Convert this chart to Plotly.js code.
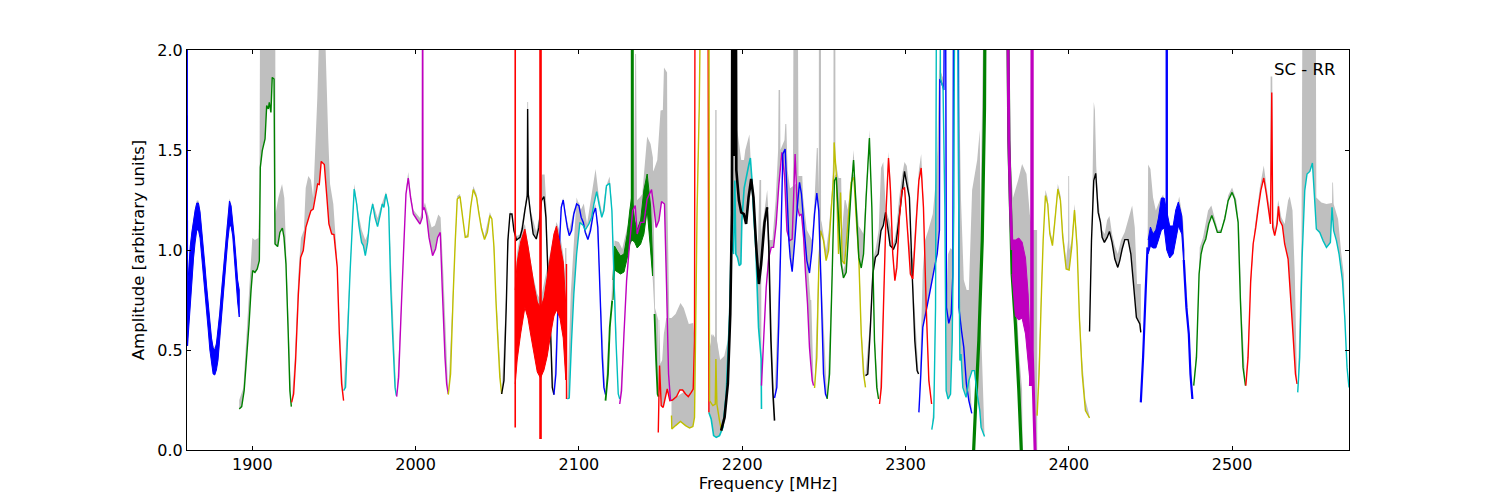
<!DOCTYPE html>
<html><head><meta charset="utf-8">
<script src="https://cdn.plot.ly/plotly-3.0.1.min.js"></script>
<style>html,body{margin:0;padding:0;background:#fff}</style></head>
<body><div id="chart" style="width:1500px;height:500px"></div>
<script>
const xLabel='Frequency [MHz]', yLabel='Amplitude [arbitrary units]', note='SC - RR';
// ---------- rippled sections: frequency, upper edge, lower edge
const rBlue1F=[1860.3,1861,1862,1863,1864,1865,1866,1867,1868,1869,1870,1871,1872,1873,1874,1875,1876,1877,1878,1879,1880,1881,1882,1883,1884,1885,1886,1887,1888,1889,1890,1891,1892];
const rBlue1U=[0.80,0.92,1.02,1.09,1.15,1.20,1.235,1.235,1.19,1.11,1.02,0.92,0.82,0.73,0.64,0.56,0.51,0.50,0.53,0.60,0.68,0.78,0.88,0.98,1.08,1.17,1.245,1.22,1.15,1.06,0.96,0.85,0.80];
const rBlue1L=[0.52,0.60,0.72,0.84,0.96,1.04,1.10,1.10,1.06,0.98,0.90,0.80,0.70,0.60,0.50,0.43,0.38,0.375,0.40,0.45,0.53,0.62,0.72,0.84,0.95,1.05,1.12,1.12,1.07,0.97,0.86,0.74,0.665];
const rRedF=[2061,2062.2,2064.3,2066.9,2068.8,2070.4,2072.4,2074.5,2076.5,2078.6,2080.6,2082.7,2084.7,2086.3,2088.4,2090.4,2092];
const rRedU=[0.80,0.94,1.04,1.105,1.02,0.93,0.83,0.74,0.71,0.76,0.87,0.98,1.08,1.12,1.02,0.94,0.72];
const rRedL=[0.33,0.45,0.58,0.713,0.66,0.58,0.48,0.39,0.36,0.40,0.47,0.58,0.67,0.70,0.66,0.56,0.35];
const rGreenF=[2120.9,2121.8,2123.9,2125.5,2127.6,2129.6,2131.2,2132.4,2134.1,2135.7,2137.8,2139.8,2141.8,2143.9,2145.1];
const rGreenU=[0.85,1.02,0.99,0.97,0.98,1.08,1.20,1.27,1.15,1.10,1.15,1.30,1.38,1.22,0.95];
const rGreenL=[0.75,0.90,0.89,0.88,0.89,0.96,1.03,1.05,1.04,1.01,1.03,1.08,1.20,1.00,0.87];
const rMagF=[2365.3,2367.3,2369.4,2371.4,2373.5,2375.1,2376.5];
const rMagU=[1.05,1.05,1.06,1.04,0.96,0.78,0.50];
const rMagL=[0.88,0.67,0.65,0.66,0.58,0.44,0.32];
const rBlue6F=[2448.6,2450,2451.6,2453.3,2454.9,2456.7,2458.4,2460,2461.8,2463.9,2465.5,2467.1,2469.2,2470.4];
const rBlue6U=[1.05,1.115,1.08,1.10,1.16,1.26,1.26,1.20,1.12,1.12,1.20,1.24,1.17,1.00];
const rBlue6L=[0.98,1.02,1.01,1.01,1.05,1.10,1.11,1.00,0.96,0.98,1.05,1.12,1.08,0.93];
// ---------- single lines
const fBlueSpike=[1860,1860.2]; const aBlueSpike=[3,0.52];
const fRedSpk1=[2061,2061]; const aRedSpk1=[3,0.113];
const fRedSpk2=[2076.5,2076.5]; const aRedSpk2=[3,0.055];
const fRedSpk3=[2092.4,2092.4]; const aRedSpk3=[0.93,0.255];
const fGreenSpk=[2132.7,2132.7]; const aGreenSpk=[3,1.2];
const fBlueSpk6=[2460,2460]; const aBlueSpk6=[3,1.1];
const fGreen2=[1892,1893.5,1895,1896.5,1898,1899.2,1900.2,1901.6,1903,1904.3,1904.9,1906.1,1907.8,1908.8,1909.8,1910.4,1911.4,1912.2,1913.3,1913.9,1915.5,1916.9,1918.4,1919.4,1920.6,1922,1923,1923.9];
const aGreen2=[0.205,0.217,0.297,0.463,0.63,0.797,0.897,0.888,0.905,0.947,1.413,1.497,1.555,1.722,1.705,1.738,1.688,1.863,1.855,1.03,1.017,1.088,1.11,1.063,0.93,0.58,0.297,0.217];
const gfGreen2=[1892,1894.5,1897.5,1900,1901.6,1903.7,1904.4,1904.9,1914,1914.2,1915.9,1918.2,1919.6,1921,1922.4,1923.9];
const gaGreen2=[0.25,0.31,0.71,1.06,1.05,1.06,1.3,2.6,2.6,1.18,1.26,1.33,1.26,0.98,0.58,0.22];
const fRed3=[1924.1,1925.3,1926.5,1928.2,1929.6,1931.2,1932.8,1934.5,1935.9,1937.3,1938.4,1940,1941,1942.2,1944.1,1945.5,1946.9,1948.6,1950,1952,1953.3,1954.7,1955.9];
const aRed3=[0.238,0.28,0.447,0.78,0.963,0.997,1.113,1.16,1.197,1.205,1.255,1.33,1.327,1.443,1.427,1.28,1.13,1.08,1.077,0.913,0.58,0.33,0.247];
const gfRed3=[1924.1,1926,1928.2,1929.8,1931.6,1932.7,1934.3,1935.9,1937.3,1938.4,1939.8,1941,1942,1944,1944.9,1946.5,1947.6,1949.6,1950.6,1952,1953.6,1955.9];
const gaRed3=[0.24,0.46,0.88,1.06,1.1,1.31,1.37,1.35,1.26,1.51,1.76,2.1,2.6,2.6,2,1.56,1.33,1.23,1.11,0.95,0.6,0.25];
const fCyan4=[1955.9,1957.1,1958.4,1959.8,1961.2,1962.4,1963.9,1965.3,1966.9,1968,1969.2,1970.6,1972,1973.7,1975.1,1976.7,1978.2,1979.6,1980.6,1981.8,1983.5,1984.7,1985.9,1987.4,1988.2];
const aCyan4=[0.297,0.313,0.58,0.88,1.113,1.305,1.23,1.122,1.038,1.022,0.972,1.038,1.163,1.23,1.163,1.117,1.172,1.23,1.213,1.28,1.213,0.83,0.58,0.313,0.272];
const gfCyan4=[1955.9,1959.8,1962.4,1965.3,1967,1969.2,1971.2,1973.7,1976.7,1978.2,1981.8,1983.5,1988.2];
const gaCyan4=[0.3,0.9,1.33,1.17,1.1,1.05,1.09,1.24,1.16,1.205,1.29,1.22,0.27];
const fMag5=[1988.4,1989.6,1991.4,1992.9,1994.1,1995.5,1996.9,1998.6,2000.6,2002.7,2004.1,2004.3,2004.5,2005.3,2006.7,2008.2,2010.4,2012.2,2013.5,2015.1,2016.3,2018,2019,2020];
const aMag5=[0.267,0.363,0.747,1.047,1.28,1.36,1.263,1.18,1.155,1.13,1.163,3,1.2,1.213,1.172,1.063,0.972,1.005,1.063,1.088,0.813,0.463,0.33,0.28];
const gfMag5=[1988.4,1991.4,1994.1,1995.5,1996.9,1998.6,2002.7,2005.7,2007.8,2009.8,2011.8,2013.9,2015.3,2017,2020];
const gaMag5=[0.27,0.76,1.3,1.39,1.29,1.2,1.16,1.238,1.18,1.113,1.122,1.177,1.163,0.88,0.28];
const fYel6=[2020,2021.4,2023.1,2024.3,2025.5,2027.2,2028.8,2030.4,2032,2033.7,2035.3,2037.3,2038.8,2040.4,2042.2,2043.9,2045.5,2046.7,2048,2049.2,2050.4,2051.6,2052.7];
const aYel6=[0.277,0.38,0.797,1.047,1.255,1.267,1.163,1.063,1.067,1.213,1.302,1.263,1.18,1.105,1.052,1.088,1.172,1.155,1.013,0.747,0.547,0.363,0.28];
const gfYel6=[2020,2025.5,2027.2,2030.4,2032,2035.3,2037.3,2038.8,2040.4,2042.2,2045.5,2046.7,2052.7];
const gaYel6=[0.28,1.27,1.28,1.07,1.08,1.32,1.28,1.2,1.12,1.07,1.19,1.16,0.28];
const fBlk7=[2052.7,2054.1,2055.5,2056.5,2057.8,2059,2060.2,2061.8,2063.9,2065.3,2066.9,2068.4,2068.6,2069,2070.4,2072,2073.9,2075.5,2077.1,2078.6,2079.8,2081.2,2082.7,2083.7,2084.7];
const aBlk7=[0.28,0.347,0.713,1.047,1.18,1.18,1.097,1.05,1.063,1.105,1.197,1.272,1.705,1.28,1.18,1.08,1.055,1.113,1.247,1.267,1.163,0.847,0.58,0.313,0.277];
const gfBlk7=[2052.7,2057.8,2060,2062,2064,2066.9,2068.2,2068.4,2068.9,2069.1,2070.4,2073.9,2075.5,2076.6,2077.5,2079,2080.2,2081.2,2084.7];
const gaBlk7=[0.28,1.2,1.12,1.07,1.08,1.22,1.3,1.74,1.74,1.3,1.2,1.09,1.16,1.34,1.377,1.377,1.2,0.87,0.28];
const gfRedR=[2061,2062,2064,2066.9,2072,2074.5,2076.5,2082.7,2086.3,2088,2090.4,2091.5,2091.6,2092.3,2092.4];
const gaRedR=[0.86,0.98,1.08,1.13,0.87,0.78,0.75,1.0,1.14,1.1,0.98,0.88,1.01,1.01,0.93];
const fBlue8=[2084.7,2085.9,2087.1,2088.2,2089.2,2090.4,2091.6,2092.9,2094.1,2095.5,2096.9,2098.6,2100,2101.4,2102.7,2103.9,2105.5,2107.1,2108.8,2110.2,2111.6,2112.9,2114.3,2115.3,2116.3];
const aBlue8=[0.277,0.38,0.697,1.047,1.213,1.25,1.18,1.113,1.072,1.097,1.18,1.23,1.222,1.163,1.138,1.088,1.052,1.097,1.18,1.21,1.113,0.797,0.463,0.313,0.277];
const gfBlue8=[2084.7,2089,2090.4,2092.9,2094.1,2096.9,2100,2103.9,2105.5,2108.8,2110.2,2112.9,2116.3];
const gaBlue8=[0.28,1.22,1.26,1.14,1.1,1.2,1.24,1.1,1.07,1.2,1.23,0.82,0.28];
const fCyan9=[2092.9,2094.1,2095.5,2096.9,2098.6,2100.6,2102.7,2103.9,2106.1,2107.8,2109.2,2110.9,2112.3,2114,2115.3,2116.9,2118.8,2120.2,2121.4,2122.7,2124.1,2125];
const aCyan9=[0.255,0.26,0.547,0.78,0.98,1.138,1.122,1.1,1.13,1.163,1.23,1.292,1.23,1.163,1.197,1.322,1.333,1.197,0.88,0.547,0.28,0.255];
const gfCyan9=[2092.9,2095,2096.9,2098.6,2101,2103,2105,2107,2110.2,2112.3,2114.3,2116.3,2118.8,2120.2,2121.8,2124.1,2125];
const gaCyan9=[0.255,0.78,1.05,1.263,1.197,1.233,1.13,1.24,1.405,1.263,1.18,1.31,1.367,1.23,0.88,0.28,0.255];
const fGreenA=[2116.3,2117.8,2118.9,2120.4];
const aGreenA=[0.247,0.38,0.613,0.747];
const fGreenB=[2146.3,2147.3,2148.2,2148.8];
const aGreenB=[0.68,0.447,0.28,0.267];
const gfGreen=[2116.3,2117.8,2119,2120.4,2121.8,2124.5,2126.5,2129.6,2133.7,2134.5,2135,2135.6,2138.8,2141.8,2143.9,2145.3,2146.6,2148.6,2148.9];
const gaGreen=[0.27,0.53,0.56,0.85,1.047,1.04,1.005,1.113,1.23,1.98,1.98,1.238,1.28,1.568,1.53,1.463,0.71,0.65,0.27];
const fMag10=[2125,2126.1,2127.6,2129.2,2131.2,2132.9,2134.5,2135.7,2137.8,2139.8,2141.8,2144.5,2145.9,2147.3,2149,2150.6,2152.4,2153.7,2154.9,2156.1];
const aMag10=[0.23,0.297,0.58,0.847,1.047,1.197,1.222,1.08,1.138,1.138,1.255,1.302,1.213,1.113,1.147,1.242,1.23,0.813,0.38,0.247];
const gfMag10=[2125,2127.6,2131.2,2134.5,2141.8,2144.5,2145.9,2148,2150,2151.4,2152.1,2154,2154.3,2155.1,2156.1];
const gaMag10=[0.23,0.6,1.1,1.24,1.3,1.38,1.4,1.45,1.697,1.7,1.913,1.888,1.2,0.797,0.25];
const fRed11=[2148.6,2149.4,2150.4,2151.6,2154.1,2155.7,2157.3,2159.8,2161.8,2163.5,2165.3,2167,2168.8,2170,2170.8,2171.2,2178.9,2179.6];
const aRed11=[0.088,0.422,0.222,0.213,0.305,0.247,0.25,0.267,0.30,0.30,0.28,0.267,0.288,0.305,0.547,3,3,0.188];
const gfRed11=[2148.6,2148.9,2149.2,2149.9,2151,2152,2153.5,2156.7,2159.2,2162.2,2164.2,2167.3,2170,2170.8,2171.2,2178.9,2179.6];
const gaRed11=[0.09,0.65,0.65,0.43,0.45,0.58,0.66,0.66,0.68,0.735,0.71,0.63,0.635,0.55,3,3,0.4];
const fYel12=[2156.7,2156.9,2159.2,2162.2,2165.3,2167.8,2169.8,2170.8,2171.4,2172.4,2173.7,2175.5,2179.5,2180,2182,2183.5,2183.9,2184.5,2186.1,2187.3];
const aYel12=[0.172,0.105,0.122,0.143,0.122,0.11,0.117,0.163,0.547,1.213,1.713,3,3,0.247,0.222,0.23,0.455,0.23,0.147,0.097];
const gfYel12=[2156.7,2170,2171,2171.4,2172.4,2173.7,2175.5,2179.5,2179.8,2182,2183.5,2183.6,2186,2187.3];
const gaYel12=[0.25,0.32,0.6,0.7,1.3,1.75,3,3,0.5,0.58,0.56,0.6,0.45,0.1];
const fCyan13=[2179.6,2181,2182.5,2184.1,2186.1,2188.2,2190.2,2192.3,2193.3,2194.7,2195.5,2196.1,2197.1,2198.2,2199.2,2199.8,2201.2,2203.9,2205,2206,2207,2208.3,2210,2211.6,2211.8];
const aCyan13=[0.188,0.155,0.072,0.063,0.072,0.113,0.28,0.68,1.047,0.98,1.347,0.98,0.963,0.922,0.93,1.147,1.31,1.42,1.46,1.347,1.18,1.013,0.613,0.455,0.205];
const gfCyan13=[2179.6,2181,2182.5,2183.4,2183.5,2184.3,2184.5,2186.5,2189,2191.2,2192.7,2194,2196.5,2198,2200,2201.9,2204.4,2205.5,2206.9,2208.6,2209.5,2210.6,2211.6,2211.8];
const gaCyan13=[0.25,0.58,0.56,0.56,1.7,1.7,0.55,0.45,0.47,0.55,0.9,1.6,1.6,1.5,1.38,1.5,1.577,1.4,1.18,1.07,0.98,1.35,1.35,0.205];
const fBlk14a=[2187.1,2189.2,2191.2,2192.7,2193.7,2194.1,2195,2195.9,2196.4,2198,2199.4,2201,2202.4,2203.9,2205.5,2206.9,2208.6,2210.2,2211.6,2213.7,2215.3];
const aBlk14a=[0.097,0.163,0.33,0.68,1.18,3,1.47,3,1.4,1.247,1.188,1.18,1.13,1.263,1.355,1.263,1.013,0.83,0.93,1.138,1.213];
const fBlk14b=[2215.3,2216.3,2217.6,2218.8,2219.8];
const aBlk14b=[1.213,1.013,0.547,0.288,0.147];
const gfBlk14=[2187.1,2192.7,2194,2196.4,2197,2199.4,2202,2204.4,2205.5,2208.6,2210.2,2212,2213.7,2215.3,2216.3,2217.6,2219.8];
const gaBlk14=[0.1,0.7,3,3,1.6,1.45,1.45,1.5,1.4,1.07,1.0,1.1,1.2,1.3,1.15,0.6,0.15];
const fMag15=[2211.8,2213.1,2214.7,2216.3,2217.8,2219.2,2220.8,2222.4,2224.3,2225.9,2227.4,2229,2230.6,2232.4,2233.7,2235.1,2236.3,2237.6,2238.8,2240,2241.2,2242,2242.9,2243.7];
const aMag15=[0.322,0.547,0.813,0.963,1.013,1.013,1.13,1.322,1.488,1.372,1.097,1.047,1.055,1.48,1.213,1.172,1.18,1.063,0.88,0.73,0.513,0.43,0.347,0.322];
const gfMag15=[2211.8,2214.7,2216.3,2218.5,2220.5,2222,2222.3,2223.2,2223.4,2225.9,2226.4,2227,2227.8,2229.6,2231,2231.6,2233.9,2234.5,2236.8,2238,2240,2241.8,2241.9,2242.3,2243.7];
const gaMag15=[0.33,0.82,1.05,1.05,1.25,1.5,1.8,1.8,1.5,1.55,1.63,1.63,1.4,1.3,1.2,2.6,2.6,1.37,1.37,1.1,0.95,0.75,0.75,0.75,0.33];
const fBlue16=[2219.8,2221.2,2222.4,2223.9,2224.9,2226.3,2227.3,2228.6,2229.4,2230.6,2232.2,2233.7,2235.1,2236.3,2238,2239.6,2241.2,2242.7,2244.3,2245.7,2246.9,2248.4,2249.8,2251,2252];
const aBlue16=[0.26,0.313,0.63,1.13,1.48,1.505,1.313,1.047,0.963,0.892,1.047,1.213,1.338,1.28,1.097,0.947,0.885,0.997,1.18,1.285,1.197,0.797,0.38,0.28,0.26];
const gfBlue16=[2219.8,2223.9,2225,2226.3,2228,2236,2239.6,2242.7,2244.3,2245.7,2246.3,2246.9,2247,2248.2,2248.3,2252];
const gaBlue16=[0.27,1.15,1.5,1.53,1.3,1.35,1.1,1.05,1.25,1.51,1.51,1.3,2.6,2.6,0.9,0.26];
const fYel17=[2244.3,2245.7,2246.9,2248,2249.8,2251.4,2252.9,2254.5,2256.2,2256.3,2257.6,2259,2260.2,2261.2,2262.7,2264.7,2266.7,2268.4,2269.8,2271.4,2272.9,2274.3,2275.5];
const aYel17=[0.31,0.463,0.913,1.097,1.047,0.947,0.997,1.197,1.397,1.538,1.38,0.98,1.288,0.947,0.93,1.13,1.338,1.363,1.163,0.963,0.58,0.38,0.313];
const gfYel17=[2244.3,2247,2248.4,2251.4,2253,2255,2255.9,2255.95,2257,2257.1,2259,2260.6,2261.2,2262.7,2263.3,2264.7,2266.7,2268.4,2270,2271.4,2272.9,2275.5];
const gaYel17=[0.32,1.0,1.15,1.0,1.1,1.3,1.5,2.6,2.6,1.45,1.36,1.36,1.1,1.25,1.25,1.2,1.36,1.38,1.2,1.05,0.62,0.32];
const fGreen18=[2252,2253.5,2255.1,2256.5,2257.6,2259,2260.6,2262,2263.7,2265.1,2266.7,2268.2,2269.8,2271.4,2272.9,2274.3,2275.9,2277.9,2279.4,2281,2282.4,2283.5];
const aGreen18=[0.255,0.38,0.88,1.347,1.363,1.163,0.93,0.86,0.888,1.08,1.297,1.45,1.213,0.963,0.91,0.98,1.263,1.56,1.213,0.547,0.313,0.255];
const gfGreen18=[2252,2255.1,2256.5,2257.6,2259,2260.6,2262,2263.7,2265.1,2266.7,2268.2,2269.8,2271.4,2272.9,2274.3,2275.9,2277.9,2279.4,2281,2283.5];
const gaGreen18=[0.26,0.9,1.37,1.38,1.2,0.98,0.9,0.95,1.15,1.33,1.5,1.26,1.12,1.1,1.08,1.33,1.6,1.25,0.58,0.26];
const fBlk19=[2275.5,2276.9,2278.4,2280,2281.6,2283.3,2285,2286.4,2287.8,2289.1,2290.6,2292.7,2294.3,2295.9,2297.8,2299.4,2300.8,2302.4,2304.1,2305.7,2307.1,2308];
const aBlk19=[0.372,0.38,0.597,0.88,0.963,0.98,1.097,1.122,1.188,1.113,1.022,1.005,1.038,1.147,1.28,1.393,1.33,1.263,0.88,0.547,0.397,0.38];
const gfBlk19=[2275.5,2278.4,2280,2281.6,2283.6,2285,2286.4,2288,2290,2292.7,2294.3,2296,2297.8,2299.4,2300.8,2302.4,2304,2308];
const gaBlk19=[0.38,0.65,0.95,1.0,1.1,1.41,1.44,1.2,1.15,1.03,1.1,1.25,1.37,1.44,1.42,1.3,0.92,0.38];
const fRed20=[2284.1,2285.2,2286.5,2288.2,2289.6,2290.8,2292.2,2293.5,2294.7,2296.3,2297.8,2299.4,2301.4,2303,2304.5,2306.5,2308.2,2309.6,2311,2312.7,2314.3,2316];
const aRed20=[0.23,0.313,0.713,1.213,1.46,1.297,0.98,0.847,0.913,1.163,1.297,1.313,1.08,0.88,0.855,1.13,1.347,1.41,1.213,0.713,0.347,0.23];
const gfRed20=[2284.1,2286.5,2288.2,2289.6,2291,2292.2,2293.5,2295,2296.3,2297.8,2299.4,2301.4,2303,2304.5,2306.5,2308.2,2309.6,2311,2312.7,2314.3,2316];
const gaRed20=[0.23,0.75,1.24,1.49,1.33,1.0,0.87,1.0,1.2,1.32,1.34,1.1,1.0,0.95,1.2,1.4,1.48,1.25,0.75,0.38,0.23];
const fBlue21=[2308.2,2309.4,2310.6,2312.7,2314.7,2317.8,2319.4,2320.8,2321,2322,2323.5,2324.3,2325.1,2326.5,2328,2329,2329.6,2332.2,2332.7,2334.3,2335.7,2337.3,2338.8,2340.6];
const aBlue21=[0.188,0.38,0.613,0.697,0.78,0.913,0.98,1.1,1.855,1.838,1.8,3,0.713,0.633,0.68,0.88,3,3,0.713,0.597,0.513,0.33,0.247,0.183];
const gfBlue21=[2308.2,2309.4,2310.6,2312,2314,2316.7,2318.6,2319.5,2320.8,2321,2323.5,2324.3,2325.1,2326.5,2328,2329,2329.6,2332.2,2333,2334,2335.7,2337.8,2338.5,2340.6];
const gaBlue21=[0.19,0.6,0.9,1.05,1.1,1.18,1.35,1.5,2.0,1.9,1.85,3,0.75,0.66,0.7,0.9,3,3,1.75,1.25,0.85,0.79,0.5,0.19];
const fCyan22=[2316.1,2317.3,2318.4,2319.2,2320.8,2321.4,2323,2324.1,2324.9,2326.1,2327.6,2328.6,2329.6,2330.4,2331.4,2332.7,2333.3,2334,2335.1,2337.1,2338.8,2340.8,2342.2,2343.9,2345.5,2346.3,2348.4];
const aCyan22=[0.102,0.163,0.713,3,3,1.855,1.813,1.213,0.297,0.255,0.28,0.547,1.213,3,3,1.047,0.447,0.48,0.313,0.263,0.347,0.397,0.397,0.28,0.197,0.113,0.068];
const gfCyan22=[2316.1,2317.3,2318.4,2319.2,2320.8,2321.4,2323,2324.1,2324.9,2326.1,2327.6,2328.6,2329.6,2330.4,2331.4,2332.7,2333.3,2335.1,2337.1,2338.8,2340.8,2342.2,2343.9,2345.5,2346.3,2348.4];
const gaCyan22=[0.1,0.25,0.75,3,3,1.9,1.85,1.25,0.7,0.98,1.01,1.0,1.2,3,3,1.3,1.2,0.85,0.8,0.8,1.3,1.36,1.45,1.6,0.6,0.07];
const fGreen23=[2341.2,2342.9,2344.9,2347,2348.4,2349.2,2361.8,2363.3,2365.3,2367.3,2369.4,2371.4];
const aGreen23=[-0.1,0.213,0.547,1.047,1.713,3,3,1.547,0.88,0.63,0.297,-0.1];
const gfGreen23=[2341.2,2342.9,2344.9,2347,2349.2,2361.8,2363.6,2365.3,2367.3,2369.4,2371.4,2371.8];
const gaGreen23=[-0.1,0.25,0.6,1.85,3,3,1.6,1.1,0.9,0.5,0.3,-0.1];
const fMagA=[2361.8,2363.3,2364.3,2365.3];
const aMagA=[3,1.547,1.213,1.0];
const fMagB=[2376.5,2377.2,2377.6,2377.6,2378.5,2379.7];
const aMagB=[0.32,0.5,3,0.5,0.25,-0.1];
const gfMag24=[2361.8,2363.6,2364.3,2365.8,2369,2371.4,2374.1,2376.1,2377.6,2380.6,2380.7];
const gaMag24=[3,1.6,1.46,1.26,1.35,1.43,1.38,1.18,1.1,1.1,-0.1];
const fYel25=[2380.6,2381.8,2383.3,2384.3,2385.7,2387.1,2388.4,2390,2391.4,2393.3,2394.9,2396.3,2398.4,2400.2,2401.8,2403.5,2405.1,2406.5,2408.2,2410.2,2412.7];
const aYel25=[0.172,0.38,0.797,1.047,1.272,1.23,1.08,1.022,1.138,1.305,1.247,1.063,0.905,0.9,1.013,1.2,1.013,0.663,0.38,0.197,0.16];
const gfYel25=[2380.6,2383.3,2384.6,2385.7,2387.1,2388.4,2390,2391.4,2393.3,2395,2396.3,2398.4,2399.6,2399.7,2400.2,2400.4,2401.8,2403.5,2405.1,2406.5,2408.2,2410.2,2412.7];
const gaYel25=[0.18,0.85,1.1,1.3,1.26,1.1,1.05,1.16,1.33,1.27,1.1,0.95,1.05,1.37,1.37,1.0,1.05,1.23,1.05,0.7,0.45,0.25,0.17];
const fBlk26=[2412.7,2413.9,2415.3,2416.5,2418,2419.4,2420.4,2421.8,2423.5,2424.9,2426.5,2428.2,2430,2431.2,2432.7,2434.3,2436.3,2438,2439.8,2441.4,2443.5,2444.1];
const aBlk26=[0.593,1.047,1.347,1.383,1.188,1.138,1.063,1.038,1.063,1.093,1.038,0.955,0.913,0.947,1.005,1.052,1.052,0.98,0.813,0.663,0.63,0.588];
const gfBlk26=[2412.7,2414,2414.8,2415.3,2416,2416.8,2418,2419.4,2420.4,2422,2423.5,2424.9,2426.5,2428.2,2430,2432,2434.3,2438.8,2440.4,2441.8,2444.1,2444.2];
const gaBlk26=[0.6,1.05,1.5,1.74,1.7,1.42,1.25,1.15,1.1,1.08,1.15,1.17,1.08,1.02,0.98,1.05,1.09,1.222,1.113,0.83,0.83,0.59];
const fBlueA=[2444.1,2445.5,2447.1,2448.2];
const aBlueA=[0.238,0.463,0.797,1.013];
const fBlueB=[2470.4,2472,2473.5,2474.5,2475.7];
const aBlueB=[0.95,0.713,0.58,0.38,0.255];
const gfBlue27=[2444.1,2447.1,2448.3,2448.6,2450,2451.6,2453.3,2455.7,2457.8,2460,2463.9,2467.6,2470,2471.6,2473.7,2474.9,2475.7];
const gaBlue27=[0.24,0.8,1.05,1.427,1.405,1.263,1.197,1.247,1.277,1.13,1.113,1.267,1.147,0.88,0.58,0.422,0.255];
const fGreen28=[2476.5,2478.2,2479.8,2481,2482.2,2483.9,2485.7,2487.6,2489.4,2491,2493.1,2495.5,2497.6,2500,2501.6,2503.7,2505.1,2506.7,2508.2];
const aGreen28=[0.322,0.463,0.88,0.98,1.022,1.055,1.13,1.172,1.13,1.088,1.088,1.155,1.247,1.288,1.255,1.138,0.747,0.413,0.322];
const gfGreen28=[2476.5,2478.4,2480.2,2482.2,2485.3,2487.3,2489.4,2491.4,2493.5,2496.1,2497.6,2500,2502.7,2504.3,2505.7,2508.2];
const gaGreen28=[0.322,0.55,1.013,1.063,1.197,1.222,1.155,1.097,1.105,1.197,1.272,1.313,1.247,1.113,0.713,0.322];
const fRed29=[2508.4,2509.8,2511.4,2512.9,2514.5,2516.1,2517.6,2519.4,2521,2522.7,2523.5,2524.3,2524.9,2526.1,2527.6,2528.4,2529.2,2530.8,2532.2,2534.3,2535.7,2537.3,2538.8,2539.8];
const aRed29=[0.322,0.463,0.847,1.03,1.113,1.213,1.297,1.36,1.28,1.18,1.13,1.788,1.113,1.072,1.13,1.218,1.147,1.122,1.03,0.955,0.78,0.58,0.38,0.33];
const gfRed29=[2508.4,2511.9,2513.9,2517,2519.4,2522,2523.4,2523.6,2524.6,2525.1,2526.5,2528.2,2530.2,2532.2,2534.3,2535.3,2537,2538.4,2539.8];
const gaRed29=[0.322,0.88,1.113,1.313,1.422,1.263,1.197,1.867,1.867,1.147,1.097,1.25,1.163,1.13,1.247,1.267,1.197,0.88,0.33];
const fCyan30=[2540.2,2541.4,2542.9,2544.5,2545.9,2547.6,2549.2,2550.6,2551.6,2553.7,2555.7,2557.8,2560.2,2561.2,2562.2,2563.9,2565.5,2567.6,2569,2570.4,2571.6];
const aCyan30=[0.288,0.463,0.963,1.297,1.38,1.393,1.435,1.247,1.105,1.088,1.047,1.013,1.038,1.213,1.097,1.047,0.98,0.847,0.663,0.413,0.313];
const gfCyan30=[2540.2,2541.4,2542.5,2543.5,2551,2551.6,2554.7,2557.8,2561.2,2561.4,2561.8,2562.2,2564.9,2566.9,2568.4,2570,2571.6];
const gaCyan30=[0.288,0.71,1.05,3,3,1.263,1.238,1.23,1.235,1.338,1.338,1.23,1.155,0.98,0.88,0.47,0.313];

// ---------- colours (matplotlib single letters)
const C={b:'#0000ff',g:'#008000',r:'#ff0000',c:'#00bfbf',m:'#bf00bf',y:'#bfbf00',k:'#000000',gray:'#bfbfbf'};
const T=[];
function gray(lf,la,uf,ua){T.push({x:lf.concat(uf.slice().reverse()),y:la.concat(ua.slice().reverse()),mode:'lines',fill:'toself',fillcolor:C.gray,line:{width:0,color:C.gray},hoverinfo:'skip',showlegend:false});}
function line(f,a,c,w){T.push({x:f,y:a,mode:'lines',line:{color:C[c],width:w||1.4,simplify:false},hoverinfo:'skip',showlegend:false});}
function band(f,u,l,c){T.push({x:f.concat(f.slice().reverse()),y:u.concat(l.slice().reverse()),mode:'lines',fill:'toself',fillcolor:C[c],line:{color:C[c],width:1},hoverinfo:'skip',showlegend:false});}
// gray first
gray(rBlue1F,rBlue1L,rBlue1F,rBlue1U.map(v=>v+0.012));
gray(fGreen2,aGreen2,gfGreen2,gaGreen2); gray(fRed3,aRed3,gfRed3,gaRed3); gray(fCyan4,aCyan4,gfCyan4,gaCyan4);
gray(fMag5,aMag5,gfMag5,gaMag5); gray(fYel6,aYel6,gfYel6,gaYel6); gray(fBlk7,aBlk7,gfBlk7,gaBlk7);
gray(rRedF,rRedL,gfRedR,gaRedR); gray(fBlue8,aBlue8,gfBlue8,gaBlue8); gray(fCyan9,aCyan9,gfCyan9,gaCyan9);
gray(fGreenA.concat(rGreenF,fGreenB),aGreenA.concat(rGreenL,aGreenB),gfGreen,gaGreen);
gray(fMag10,aMag10,gfMag10,gaMag10); gray(fRed11,aRed11,gfRed11,gaRed11); gray(fYel12,aYel12,gfYel12,gaYel12);
gray(fCyan13,aCyan13,gfCyan13,gaCyan13); gray(fBlk14a.concat(fBlk14b),aBlk14a.concat(aBlk14b),gfBlk14,gaBlk14);
gray(fMag15,aMag15,gfMag15,gaMag15); gray(fBlue16,aBlue16,gfBlue16,gaBlue16); gray(fYel17,aYel17,gfYel17,gaYel17);
gray(fGreen18,aGreen18,gfGreen18,gaGreen18); gray(fBlk19,aBlk19,gfBlk19,gaBlk19); gray(fRed20,aRed20,gfRed20,gaRed20);
gray(fBlue21,aBlue21,gfBlue21,gaBlue21); gray(fCyan22,aCyan22,gfCyan22,gaCyan22); gray(fGreen23,aGreen23,gfGreen23,gaGreen23);
gray(fMagA.concat(rMagF,fMagB),aMagA.concat(rMagL,aMagB),gfMag24,gaMag24);
gray(fYel25,aYel25,gfYel25,gaYel25); gray(fBlk26,aBlk26,gfBlk26,gaBlk26);
gray(fBlueA.concat(rBlue6F,fBlueB),aBlueA.concat(rBlue6L,aBlueB),gfBlue27,gaBlue27);
gray(fGreen28,aGreen28,gfGreen28,gaGreen28); gray(fRed29,aRed29,gfRed29,gaRed29); gray(fCyan30,aCyan30,gfCyan30,gaCyan30);
// lines: first sweep
line(fBlueSpike,aBlueSpike,'b',1.6); band(rBlue1F,rBlue1U,rBlue1L,'b');
line(fGreen2,aGreen2,'g'); line(fRed3,aRed3,'r'); line(fCyan4,aCyan4,'c'); line(fMag5,aMag5,'m'); line(fYel6,aYel6,'y'); line(fBlk7,aBlk7,'k');
line(fBlue8,aBlue8,'b');
line(fGreenA,aGreenA,'g',1.8); band(rGreenF,rGreenU,rGreenL,'g'); line(fGreenB,aGreenB,'g',1.8); line(fGreenSpk,aGreenSpk,'g',3);
line(fRed11,aRed11,'r'); line(fCyan13,aCyan13,'c',1.6); line(fMag15,aMag15,'m'); line(fYel17,aYel17,'y'); line(fBlk19,aBlk19,'k');
line(fBlue21,aBlue21,'b'); line(fGreen23,aGreen23,'g',3.2);
// second sweep
band(rRedF,rRedU,rRedL,'r'); line(fRedSpk1,aRedSpk1,'r',1.6); line(fRedSpk2,aRedSpk2,'r',2.6); line(fRedSpk3,aRedSpk3,'r',1.4);
line(fCyan9,aCyan9,'c'); line(fMag10,aMag10,'m'); line(fYel12,aYel12,'y');
line(fBlk14a,aBlk14a,'k',2.6); line(fBlk14b,aBlk14b,'k',1.6);
line(fBlue16,aBlue16,'b'); line(fGreen18,aGreen18,'g'); line(fRed20,aRed20,'r'); line(fCyan22,aCyan22,'c');
line(fMagA,aMagA,'m',3); band(rMagF,rMagU,rMagL,'m'); line(fMagB,aMagB,'m',3);
line(fYel25,aYel25,'y'); line(fBlk26,aBlk26,'k');
line(fBlueA,aBlueA,'b',2.2); band(rBlue6F,rBlue6U,rBlue6L,'b'); line(fBlueB,aBlueB,'b',2.2); line(fBlueSpk6,aBlueSpk6,'b',2.4);
line(fGreen28,aGreen28,'g'); line(fRed29,aRed29,'r'); line(fCyan30,aCyan30,'c');

const axisCommon={showgrid:false,zeroline:false,showline:true,linecolor:'#000',linewidth:1,mirror:'ticks',ticks:'inside',ticklen:4,tickwidth:1,tickcolor:'#000',automargin:false,tickfont:{size:16}};
const layout={width:1500,height:500,margin:{l:187,r:151,t:50,b:50,pad:0},paper_bgcolor:'#fff',plot_bgcolor:'#fff',showlegend:false,
 font:{family:'"DejaVu Sans",sans-serif',size:16,color:'#000'},
 xaxis:Object.assign({},axisCommon,{range:[1860,2571.6],tick0:1900,dtick:100,title:{text:xLabel,standoff:3,font:{size:16.5}}}),
 yaxis:Object.assign({},axisCommon,{range:[0,2],tick0:0,dtick:0.5,tickformat:'.1f',title:{text:yLabel,standoff:8,font:{size:16.5}}}),
 annotations:[{text:note,xref:'paper',yref:'paper',x:0.9897,y:0.9525,xanchor:'right',yanchor:'middle',showarrow:false,font:{size:16.5,color:'#000'}}]};
Plotly.newPlot('chart',T,layout,{displayModeBar:false,staticPlot:true});
</script></body></html>
